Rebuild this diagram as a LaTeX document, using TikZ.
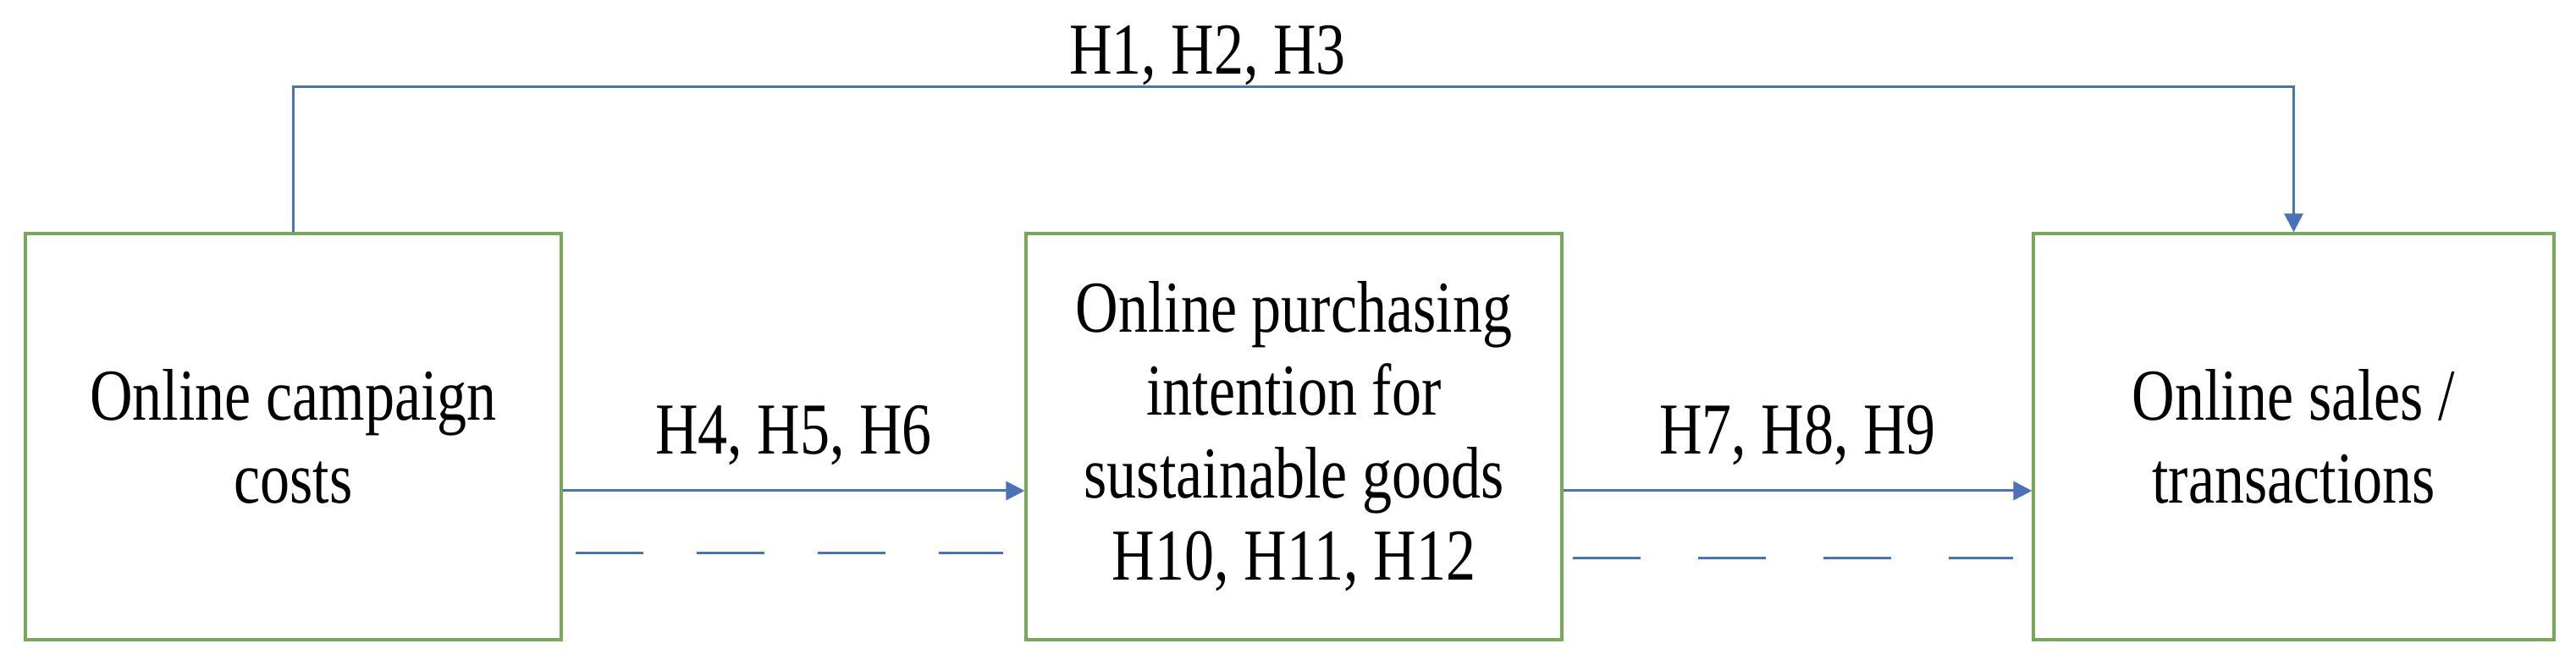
\documentclass[tikz,border=0pt]{standalone}
\usepackage{fontspec}
\setmainfont{Liberation Serif}[FakeStretch=0.81]
\usetikzlibrary{arrows.meta}
\definecolor{boxline}{HTML}{78A95A}
\definecolor{link}{HTML}{4A72B8}
\tikzset{>={Triangle[length=2.2mm,width=2.2mm]}}
\tikzset{
  var/.style={shape=rectangle, draw=boxline, line width=0.9pt, inner sep=0pt,
    minimum height=4.8cm, align=center,
    font=\fontsize{24.6}{27.8}\selectfont},
  hyp/.style={font=\fontsize{24.6}{27.8}\selectfont, text=black, anchor=base},
  linkline/.style={draw, line width=0.85pt, color=link},
  dashline/.style={draw, line width=0.85pt, color=link}
}

\begin{document}
\begin{tikzpicture}
    \useasboundingbox (0,0) rectangle (30.43,7.80);

    \node at (3.465, 2.64) (camp) [var, minimum width=6.33cm] {Online campaign\\costs};
    \node at (15.285, 2.64) (intent) [var, minimum width=6.33cm] {Online purchasing\\intention for\\sustainable goods\\H10, H11, H12};
    \node at (27.095, 2.64) (sales) [var, minimum width=6.15cm] {Online sales /\\transactions};

    \coordinate (tl) at (camp.north |- 0,6.77);
    \coordinate (tr) at (sales.north |- tl);

    \path[->, linkline] (camp.north) -- (tl) -- node[hyp, pos=0.457, yshift=0.15cm] {H1, H2, H3} (tr) -- (sales.north);

    \path[->, linkline] ([yshift=-0.64cm]camp.east) -- node[hyp, yshift=0.43cm] {H4, H5, H6} ([yshift=-0.64cm]intent.west);
    \path[->, linkline] ([yshift=-0.64cm]intent.east) -- node[hyp, yshift=0.43cm] {H7, H8, H9} ([yshift=-0.64cm]sales.west);

    \path[dashline, dash pattern=on 0.8cm off 0.63cm, shorten <=0.15cm, shorten >=0.25cm] ([yshift=-1.38cm]camp.east) -- ([yshift=-1.38cm]intent.west);
    \path[dashline, dash pattern=on 0.8cm off 0.68cm, shorten <=0.11cm, shorten >=0.22cm] ([yshift=-1.44cm]intent.east) -- ([yshift=-1.44cm]sales.west);
\end{tikzpicture}
\end{document}
